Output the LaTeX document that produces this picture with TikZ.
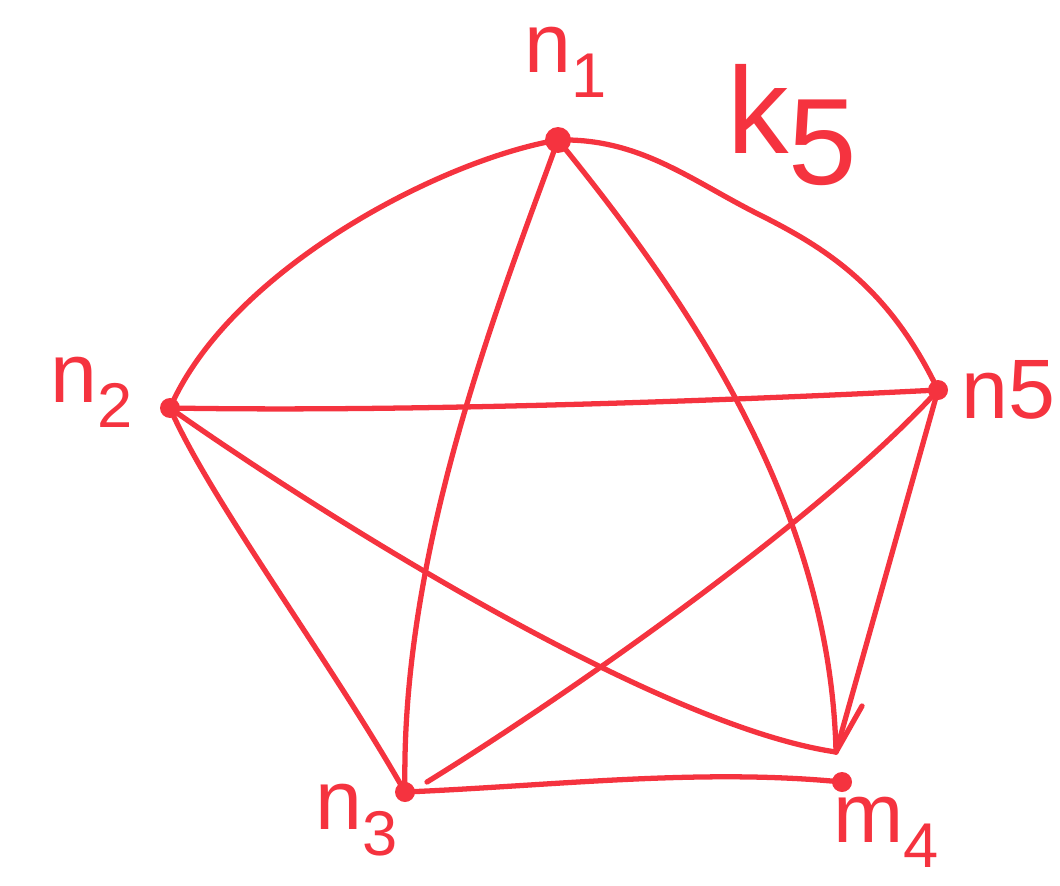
\documentclass[tikz,border=0pt]{standalone}
\usepackage{fontspec}
\setmainfont{Liberation Sans}
\definecolor{ink}{HTML}{F5333F}
\newcommand{\lbl}[2]{#1\raisebox{-0.3em}{\scalebox{0.75}{#2}}}
\begin{document}
\begin{tikzpicture}[x=0.02cm,y=-0.02cm,
  edge/.style={draw=ink,line width=3pt,line cap=round},
  dotnode/.style={circle,fill=ink,inner sep=0pt,minimum size=0.4cm},
  lab/.style={text=ink,font=\fontsize{48}{48}\selectfont,inner sep=0pt}]
\useasboundingbox (0,0) rectangle (1060,885);
\node[dotnode,minimum size=0.52cm] (n1) at (558,140) {};
\node[dotnode] (n2) at (170,408) {};
\node[dotnode] (n3) at (405,792) {};
\node[dotnode] (n4) at (842,782) {};
\node[dotnode] (n5) at (938,390) {};
\coordinate (tick) at (862,706);
\coordinate (n4top) at (836,752);
\node[lab] (l1) at (566,62) {\lbl{n}{1}};
\node[lab] (l2) at (92,392) {\lbl{n}{2}};
\node[lab] (l3) at (357,820) {\lbl{n}{3}};
\node[lab] (l4) at (886,832) {\lbl{m}{4}};
\node[lab] (l5) at (1008,390) {n5};
\node[lab,font=\fontsize{70}{70}\selectfont] (k5) at (792,125) {k\raisebox{-0.25em}{5}};
% outer cycle
\draw[edge] (n1.center) .. controls (440,160) and (230,270) .. (n2.center);
\draw[edge] (n1.center) .. controls (640,138) and (690,180) .. (760,215)
  .. controls (830,250) and (890,290) .. (n5.center);
\draw[edge] (n2.center) .. controls (210,500) and (330,660) .. (n3.center);
\draw[edge] (n3.center) .. controls (550,786) and (700,768) .. (n4.center);
\draw[edge] (n4top) -- (n5.center);
\draw[edge] (n4top) -- (tick);
% star
\draw[edge] (n1.center) .. controls (500,300) and (400,550) .. (n3.center);
\draw[edge] (n1.center) .. controls (680,290) and (830,500) .. (n4top);
\draw[edge] (n2.center) .. controls (400,412) and (700,402) .. (n5.center);
\draw[edge] (n2.center) .. controls (300,500) and (650,725) .. (n4top);
\draw[edge] (n3.center) ++(22,-10) .. controls (560,700) and (820,520) .. (n5.center);
\end{tikzpicture}
\end{document}
